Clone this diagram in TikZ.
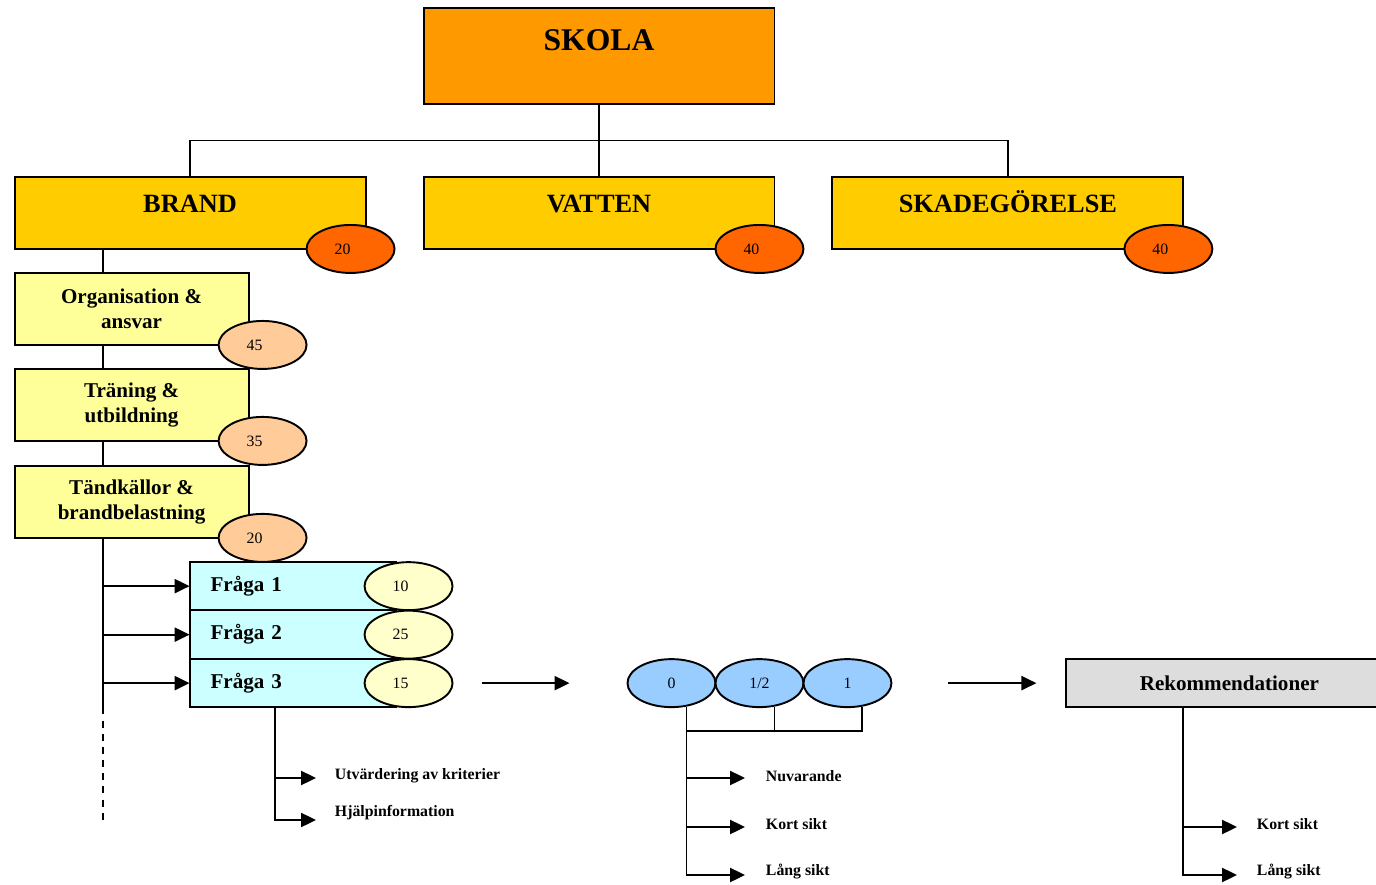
\documentclass[tikz,border=0pt]{standalone}
\usepackage{fontspec}
\setmainfont{Liberation Serif}
\usepackage{xcolor}
\usepackage{tikz}
\usetikzlibrary{arrows.meta,positioning,shapes.geometric,backgrounds,calc}
\definecolor{ink}{HTML}{000000}
\definecolor{skolafill}{HTML}{FF9900}
\definecolor{areafill}{HTML}{FFCC00}
\definecolor{areascore}{HTML}{FF6600}
\definecolor{subfill}{HTML}{FFFF99}
\definecolor{subscore}{HTML}{FFCC99}
\definecolor{qfill}{HTML}{CCFFFF}
\definecolor{qscore}{HTML}{FFFFCC}
\definecolor{gradefill}{HTML}{99CCFF}
\definecolor{rekfill}{HTML}{DDDDDD}

\begin{document}
\begin{tikzpicture}[
    x=0.02cm, y=-0.02cm,
    line width=1.1pt,
    topbox/.style={draw=ink, fill=skolafill, inner sep=0pt, outer sep=0pt,
                   minimum width=7.02cm, minimum height=1.92cm,
                   font=\bfseries\fontsize{18}{20}\selectfont, text height=12pt, text depth=18pt},
    area/.style={draw=ink, fill=areafill, inner sep=0pt, outer sep=0pt,
                 minimum width=7.02cm, minimum height=1.44cm,
                 font=\bfseries\fontsize{15}{17}\selectfont, text height=10pt, text depth=10pt},
    sub/.style={draw=ink, fill=subfill, inner sep=0pt, outer sep=0pt, align=center,
                minimum width=4.68cm, minimum height=1.44cm,
                font=\bfseries\fontsize{12}{14}\selectfont},
    question/.style={draw=ink, fill=qfill, inner ysep=0pt, inner xsep=0.42cm, outer sep=0pt,
                     text width=3.28cm, align=left, minimum height=0.97cm,
                     font=\bfseries\fontsize{12}{14}\selectfont},
    rekbox/.style={draw=ink, fill=rekfill, inner sep=0pt, outer sep=0pt,
                   minimum width=6.52cm, minimum height=0.96cm,
                   font=\bfseries\fontsize{12}{14}\selectfont},
    score/.style={ellipse, draw=ink, inner sep=0pt, outer sep=0pt,
                  minimum width=1.76cm, minimum height=0.96cm,
                  font=\fontsize{9}{10}\selectfont},
    leftnum/.style={execute at end node={\hspace{0.32cm}}},
    note/.style={anchor=west, inner sep=0pt, font=\bfseries\fontsize{9}{10}\selectfont},
    link/.style={draw=ink, line width=1.1pt},
    arrow/.style={-{Triangle[length=8.5pt,width=8pt]}, draw=ink, line width=1.1pt},
    dashline/.style={draw=ink, line width=1.1pt, dash pattern=on 4pt off 3.5pt}
  ]
  \useasboundingbox (0,0) rectangle (1376,885);

  %%%%%%%%%%%%% Top: school %%%%%%%%%%%%%
  \node[topbox] (skola) at (599,56) {SKOLA};

  %%%%%%%%%%%%% Risk areas %%%%%%%%%%%%%
  \node[area, below=1.46cm of skola] (vatten) {VATTEN};
  \node[area, left=1.16cm of vatten] (brand) {BRAND};
  \node[area, right=1.16cm of vatten] (skade) {SKADEGÖRELSE};

  \node[score, leftnum, fill=areascore] (brandval) at ([xshift=-0.3cm]brand.south east) {20};
  \node[score, leftnum, fill=areascore] (vattenval) at ([xshift=-0.3cm]vatten.south east) {40};
  \node[score, leftnum, fill=areascore] (skadeval) at ([xshift=-0.3cm]skade.south east) {40};

  %%%%%%%%%%%%% Sub areas of BRAND %%%%%%%%%%%%%
  \node[sub, below right=0.48cm and 0cm of brand.south west] (org) {Organisation \&\\ansvar};
  \node[sub, below=0.48cm of org] (tran) {Träning \&\\utbildning};
  \node[sub, below=0.5cm of tran] (tand) {Tändkällor \&\\brandbelastning};

  \node[score, leftnum, fill=subscore] (orgval) at ([xshift=0.28cm]org.south east) {45};
  \node[score, leftnum, fill=subscore] (tranval) at ([xshift=0.28cm]tran.south east) {35};
  \node[score, leftnum, fill=subscore] (tandval) at ([xshift=0.28cm]tand.south east) {20};

  %%%%%%%%%%%%% Questions %%%%%%%%%%%%%
  \node[question, below right=0.48cm and 3.5cm of tand.south west] (fraga1) {Fråga 1};
  \node[question, below=0pt of fraga1] (fraga2) {Fråga 2};
  \node[question, below=0pt of fraga2] (fraga3) {Fråga 3};

  \node[score, leftnum, fill=qscore] (q1val) at ([xshift=0.26cm]fraga1.east) {10};
  \node[score, leftnum, fill=qscore] (q2val) at ([xshift=0.26cm]fraga2.east) {25};
  \node[score, leftnum, fill=qscore] (q3val) at ([xshift=0.26cm]fraga3.east) {15};

  \node[note] (utv) at (334,776) {Utvärdering av kriterier};
  \node[note] (hjalp) at (334,813) {Hjälpinformation};

  %%%%%%%%%%%%% Grades %%%%%%%%%%%%%
  \node[score, fill=gradefill, right=3.5cm of q3val] (zero) {0};
  \node[score, fill=gradefill, right=0pt of zero] (half) {1/2};
  \node[score, fill=gradefill, right=0pt of half] (one) {1};

  \node[note] (nuv) at (765,776) {Nuvarande};
  \node[note] (kort) at (765,824) {Kort sikt};
  \node[note] (lang) at (765,872) {Lång sikt};

  %%%%%%%%%%%%% Recommendations %%%%%%%%%%%%%
  \node[rekbox, right=3.5cm of one] (rek) {Rekommendationer};

  \node[note] (rkort) at (1256,824) {Kort sikt};
  \node[note] (rlang) at (1256,872) {Lång sikt};

  %%%%%%%%%%%%% Connections %%%%%%%%%%%%%
  \begin{scope}[on background layer]
    \coordinate (bus) at ($(skola.south)!0.5!(vatten.north)$);
    \draw[link] (skola.south) -- (vatten.north);
    \draw[link] (brand.north) |- (bus) -| (skade.north);

    % trunk below BRAND
    \coordinate (trunk) at ([xshift=1.76cm]brand.south west);
    \draw[link] (trunk) -- (trunk |- fraga3.south) coordinate (trunkend);
    \draw[dashline] (trunkend) -- ++(0cm,-2.36cm);

    % grade bracket
    \coordinate (gstem) at ([xshift=0.3cm]zero.south);
    \draw[link] ([xshift=0.3cm]one.south) |- ([yshift=-0.48cm]gstem);
    \draw[link] ([xshift=0.3cm]half.south) -- ++(0cm,-0.48cm);
  \end{scope}

  \foreach \q in {fraga1,fraga2,fraga3}
    \draw[arrow] (trunk |- \q.west) -- (\q.west);

  \coordinate (qstem) at ([xshift=1.7cm]fraga3.south west);
  \draw[arrow] (qstem) |- ([xshift=-0.36cm, yshift=-0.04cm]utv.west);
  \draw[arrow] (qstem) |- ([xshift=-0.36cm, yshift=-0.14cm]hjalp.west);

  \draw[arrow, shorten <=0.58cm, shorten >=1.16cm] (q3val) -- (zero);

  \draw[arrow] (gstem) |- ([xshift=-0.4cm, yshift=-0.04cm]nuv.west);
  \draw[arrow] (gstem) |- ([xshift=-0.4cm, yshift=-0.06cm]kort.west);
  \draw[arrow] (gstem) |- ([xshift=-0.4cm, yshift=-0.06cm]lang.west);

  \draw[arrow, shorten <=1.14cm, shorten >=0.6cm] (one) -- (rek);

  \coordinate (rstem) at ([xshift=2.34cm]rek.south west);
  \draw[arrow] (rstem) |- ([xshift=-0.38cm, yshift=-0.06cm]rkort.west);
  \draw[arrow] (rstem) |- ([xshift=-0.38cm, yshift=-0.06cm]rlang.west);

\end{tikzpicture}
\end{document}
